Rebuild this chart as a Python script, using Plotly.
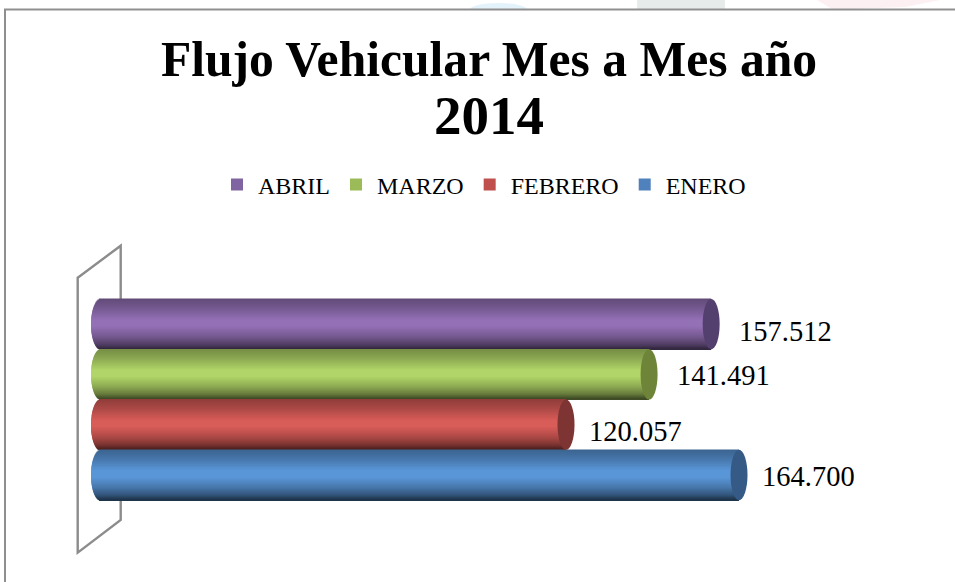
import numpy as np
import plotly.graph_objects as go

# Data
title_line = "Flujo Vehicular Mes a Mes año"
title_year = "2014"
series_names = ["ABRIL", "MARZO", "FEBRERO", "ENERO"]
series_values = [157512, 141491, 120057, 164700]
series_slots = [3, 2, 1, 0]

# Style
legend_colors = ["#8064a2", "#9bbb59", "#c0504d", "#4f81bd"]
bright_colors = [(148, 113, 182), (177, 213, 104), (216, 92, 88), (90, 150, 216)]
cap_colors = ["#54406e", "#6d8439", "#7d3432", "#345a85"]
label_dx_px = [26, 26, 21, 21]
label_dy_px = [7, 1, 7, 1]

W, H = 955, 582
PX_PER_UNIT = 0.003875
X0_PX = 100.8
SLOT_PX = 50.3
Y0_PX = 475.0
RX_PX = 8.5
LEFT_RX_PX = 9.8
N = 50

rx = RX_PX / PX_PER_UNIT
left_rx = LEFT_RX_PX / PX_PER_UNIT
stops_t = [0.0, 0.2, 0.42, 0.55, 0.75, 0.9, 1.0]
stops_f = [0.66, 0.80, 1.0, 1.0, 0.80, 0.58, 0.33]


def paper(x, y):
    return x / W, 1 - y / H


def path(points, close=False):
    pts = [paper(*p) for p in points]
    d = "M " + " L ".join(f"{a:.5f},{b:.5f}" for a, b in pts)
    return d + (" Z" if close else "")


fig = go.Figure()
shapes = []

# faint page background peeking above the frame
for pts, col in [
    ([(637, 0), (725, 0), (725, 9), (637, 9)], "#e7ecea"),
    ([(817, 0), (940, 0), (905, 7), (850, 9), (832, 9)], "#fdf0f2"),
]:
    shapes.append(dict(type="path", xref="paper", yref="paper", path=path(pts, True),
                       fillcolor=col, line_width=0, layer="below"))
x1, y1 = paper(470, 3)
x2, y2 = paper(527, 16)
shapes.append(dict(type="circle", xref="paper", yref="paper", x0=x1, x1=x2, y0=y1, y1=y2,
                   fillcolor="#e4f3fb", line_width=0, layer="below"))
shapes.append(dict(type="rect", xref="paper", yref="paper", x0=0, x1=1,
                   y0=paper(0, 582)[1], y1=paper(0, 9.5)[1], fillcolor="white",
                   line_width=0, layer="below"))

# chart frame
shapes.append(dict(type="path", xref="paper", yref="paper",
                   path=path([(5, 582), (5, 9.5), (955, 9.5)]),
                   line=dict(color="#8f8f8f", width=2), layer="below"))
# 3D wall
shapes.append(dict(type="path", xref="paper", yref="paper",
                   path=path([(77.7, 277.7), (120.7, 245.7), (120.7, 520), (77.7, 552.7)], True),
                   line=dict(color="#8c8c8c", width=2.4), layer="below"))

t = (np.arange(N) + 0.5) / N
for name, val, slot, lc, bc, cap, dx, dy in zip(series_names, series_values, series_slots,
                                                legend_colors, bright_colors, cap_colors,
                                                label_dx_px, label_dy_px):
    fig.add_trace(go.Bar(x=[val], y=[slot], width=[0.98], orientation="h", name=name,
                         legendgroup=name, marker=dict(color=lc, line_width=0)))
    f = np.interp(t, stops_t, stops_f)
    cols = [f"rgb({int(bc[0]*k)},{int(bc[1]*k)},{int(bc[2]*k)})" for k in f]
    left = left_rx * np.sqrt(np.clip(1 - (2 * t - 1) ** 2, 0, 1))
    fig.add_trace(go.Bar(x=(val + left).tolist(), base=(-left).tolist(),
                         y=(slot + 0.5 - t).tolist(), width=1.7 / N, orientation="h",
                         legendgroup=name, showlegend=False, hoverinfo="skip",
                         marker=dict(color=cols, line_width=0)))
    shapes.append(dict(type="circle", xref="x", yref="y", x0=val - rx, x1=val + rx,
                       y0=slot - 0.5, y1=slot + 0.5, fillcolor=cap, line_width=0, layer="above"))
    fig.add_annotation(x=val + dx / PX_PER_UNIT, y=slot - dy / SLOT_PX, xref="x", yref="y",
                       text=f"{val:,}".replace(",", "."), showarrow=False, xanchor="left",
                       yanchor="middle", xshift=0,
                       font=dict(family="Liberation Serif", size=28.5, color="#000000"))

fig.add_annotation(x=489 / W, y=1 - 116 / H, xref="paper", yref="paper", text=f"<b>{title_year}</b>",
                   showarrow=False, xanchor="center", yanchor="middle",
                   font=dict(family="Liberation Serif", size=55, color="#000000"))

fig.update_layout(
    width=W, height=H, margin=dict(l=0, r=0, t=0, b=0), autosize=False,
    paper_bgcolor="white", plot_bgcolor="rgba(0,0,0,0)", barmode="overlay",
    title=dict(text=f"<b>{title_line}</b>", x=489 / W, xanchor="center",
               y=1 - 59 / H, yanchor="middle", xref="paper", yref="paper",
               font=dict(family="Liberation Serif", size=49.6, color="#000000")),
    legend=dict(orientation="h", x=216 / W, xanchor="left", y=1 - 185 / H, yanchor="middle",
                font=dict(family="Liberation Serif", size=24, color="#000000"),
                traceorder="normal", bgcolor="rgba(0,0,0,0)", itemwidth=32),
    xaxis=dict(visible=False, range=[-X0_PX / PX_PER_UNIT, (W - X0_PX) / PX_PER_UNIT], fixedrange=True),
    yaxis=dict(visible=False, range=[(Y0_PX - H) / SLOT_PX, Y0_PX / SLOT_PX], fixedrange=True),
    shapes=shapes,
)

fig.write_html("out.html", config=dict(displayModeBar=False),
               post_script="document.body.style.margin='0';document.documentElement.style.overflow='hidden';")
